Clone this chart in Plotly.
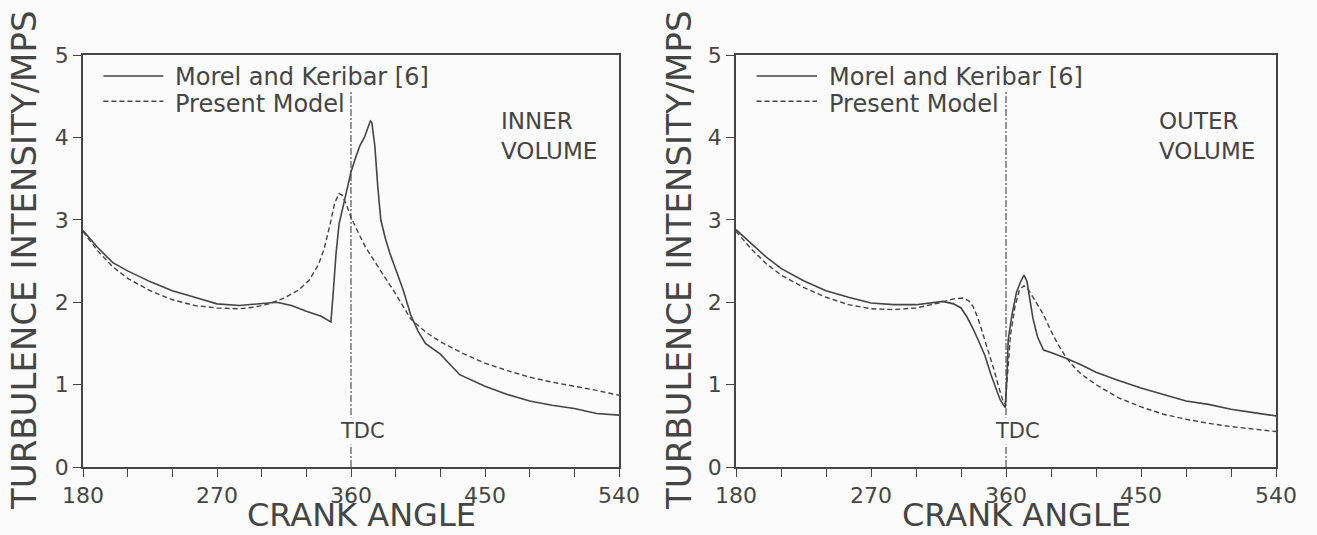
import plotly.graph_objects as go

# ---------------- data ----------------
inner_solid_x = [180, 185, 190, 200, 210, 225, 240, 255, 270, 285, 300, 310, 320, 330, 340, 345, 346.5,
                 348, 350, 352, 355, 358, 360, 363, 366, 369, 371, 373, 374, 376, 378, 380, 383, 386,
                 390, 395, 400, 405, 410, 420, 433, 450, 465, 480, 495, 510, 525, 540]
inner_solid_y = [2.87, 2.76, 2.66, 2.48, 2.38, 2.25, 2.14, 2.06, 1.98, 1.96, 1.98, 2.0, 1.96, 1.89, 1.83, 1.77, 1.76,
                 2.1, 2.6, 2.95, 3.2, 3.45, 3.58, 3.75, 3.9, 4.0, 4.1, 4.2, 4.18, 3.9, 3.4, 3.0, 2.78, 2.6,
                 2.4, 2.15, 1.85, 1.65, 1.5, 1.37, 1.12, 0.98, 0.88, 0.8, 0.75, 0.71, 0.65, 0.63]

inner_model_x = [180, 185, 190, 200, 210, 225, 240, 255, 270, 285, 295, 305, 315, 325, 332, 338, 342, 346,
                 349, 352, 354, 357, 360, 365, 370, 375, 380, 390, 400, 410, 420, 435, 450, 465, 480, 495,
                 510, 525, 540]
inner_model_y = [2.86, 2.74, 2.62, 2.43, 2.29, 2.14, 2.03, 1.96, 1.93, 1.92, 1.94, 1.98, 2.05, 2.15, 2.27, 2.45,
                 2.65, 2.95, 3.2, 3.32, 3.3, 3.18, 3.03, 2.84, 2.66, 2.52, 2.38, 2.1, 1.8, 1.64, 1.52, 1.38,
                 1.26, 1.17, 1.09, 1.03, 0.98, 0.93, 0.87]

outer_solid_x = [180, 185, 190, 200, 210, 225, 240, 255, 270, 285, 300, 310, 318, 325, 330, 334, 338, 342,
                 346, 350, 353, 356, 358, 359.5, 360.5, 361.5, 364, 367, 370, 372, 374, 376, 378, 381, 385,
                 390, 400, 410, 420, 435, 450, 465, 480, 495, 510, 525, 540]
outer_solid_y = [2.88, 2.8, 2.71, 2.55, 2.41, 2.26, 2.14, 2.06, 1.99, 1.97, 1.97, 1.99, 2.01, 1.98, 1.93, 1.82,
                 1.68, 1.52, 1.35, 1.12, 0.97, 0.82, 0.76, 0.72, 1.05, 1.55, 1.85, 2.12, 2.26, 2.33, 2.25,
                 2.05, 1.8, 1.58, 1.42, 1.39, 1.32, 1.24, 1.15, 1.05, 0.96, 0.88, 0.8, 0.76, 0.7, 0.66, 0.62]

outer_model_x = [180, 185, 190, 200, 210, 225, 240, 255, 270, 285, 300, 315, 325, 331, 335, 338, 341, 344,
                 348, 352, 355, 358, 359.5, 361, 363, 366, 369, 372, 375, 380, 385, 390, 395, 400, 405, 410,
                 420, 435, 450, 465, 480, 495, 510, 525, 540]
outer_model_y = [2.86, 2.75, 2.65, 2.47, 2.33, 2.18, 2.06, 1.97, 1.92, 1.91, 1.93, 1.99, 2.04, 2.05, 2.02, 1.95,
                 1.82, 1.65, 1.42, 1.18, 0.98, 0.8, 0.76, 1.1, 1.6, 1.95, 2.15, 2.2, 2.15, 2.0, 1.85, 1.65,
                 1.48, 1.33, 1.22, 1.13, 1.0, 0.84, 0.73, 0.64, 0.58, 0.53, 0.49, 0.46, 0.43]

x_ticks = [180, 210, 240, 270, 300, 330, 360, 390, 420, 450, 480, 510, 540]
x_tick_text = ["180", "", "", "270", "", "", "360", "", "", "450", "", "", "540"]
y_ticks = [0, 1, 2, 3, 4, 5]
legend_names = ["Morel and Keribar [6]", "Present Model"]
panel_labels = ["INNER<br>VOLUME", "OUTER<br>VOLUME"]
tdc_angle = 360
tdc_top = 4.55

# ---------------- style ----------------
INK = "#454545"
BG = "#fbfbfb"
FONT = "DejaVu Sans"

fig = go.Figure()

panels = [
    ("x", "y", inner_solid_x, inner_solid_y, inner_model_x, inner_model_y),
    ("x2", "y2", outer_solid_x, outer_solid_y, outer_model_x, outer_model_y),
]
for xa, ya, sx, sy, mx, my in panels:
    fig.add_trace(go.Scatter(x=sx, y=sy, xaxis=xa, yaxis=ya, mode="lines",
                             line=dict(color=INK, width=1.6), showlegend=False))
    fig.add_trace(go.Scatter(x=mx, y=my, xaxis=xa, yaxis=ya, mode="lines",
                             line=dict(color=INK, width=1.4, dash="5px,3px"), showlegend=False))
    fig.add_trace(go.Scatter(x=[tdc_angle, tdc_angle], y=[0, tdc_top], xaxis=xa, yaxis=ya, mode="lines",
                             line=dict(color=INK, width=1.1, dash="7px,2px,2px,2px"), showlegend=False))

xdoms = [[83 / 1317, 619 / 1317], [736 / 1317, 1276 / 1317]]
ydom = [1 - 467 / 535, 1 - 55 / 535]

axis_common = dict(showline=True, linecolor=INK, linewidth=1.5, mirror=True, showgrid=False,
                   zeroline=False, ticks="outside", ticklen=8, tickwidth=1.3, tickcolor=INK,
                   automargin=False,
                   tickfont=dict(family=FONT, size=22, color=INK))

layout = dict(
    width=1317, height=535, margin=dict(l=0, r=0, t=0, b=0, pad=0),
    paper_bgcolor=BG, plot_bgcolor=BG, showlegend=False,
    font=dict(family=FONT, color=INK),
)
for i, (xd, name) in enumerate(zip(xdoms, ["", "2"])):
    layout["xaxis" + name] = dict(axis_common, domain=xd, range=[180, 540], tickvals=x_ticks,
                                  ticktext=x_tick_text, anchor="y" + name)
    layout["yaxis" + name] = dict(axis_common, domain=ydom, range=[0, 5], tickvals=y_ticks,
                                  anchor="x" + name)
fig.update_layout(**layout)

ann = []
shapes = []
for i, name in enumerate(["", "2"]):
    xr = "x" + name
    yr = "y" + name
    ann.append(dict(text="CRANK ANGLE", xref="paper", yref="paper",
                    x=(361 if i == 0 else 1016) / 1317, y=0,
                    xanchor="center", yanchor="bottom", borderpad=0,
                    showarrow=False, font=dict(family=FONT, size=32, color=INK)))
    ann.append(dict(text="TURBULENCE INTENSITY/MPS", xref="paper", yref="paper",
                    x=(24 if i == 0 else 679) / 1317, y=1 - 260 / 535, textangle=-90,
                    xanchor="center", yanchor="middle",
                    showarrow=False, font=dict(family=FONT, size=34, color=INK)))
    for j, (nm, dash, yy, ty) in enumerate(zip(legend_names, ["solid", "5px,3px"], [0.949, 0.888], [0.946, 0.882])):
        shapes.append(dict(type="line", xref=xr + " domain", yref=yr + " domain",
                           x0=0.038, x1=0.150, y0=yy, y1=yy,
                           line=dict(color=INK, width=1.5, dash=dash)))
        ann.append(dict(text=nm, xref=xr + " domain", yref=yr + " domain", x=0.168, y=ty,
                        xanchor="left", yanchor="middle", showarrow=False,
                        font=dict(family=FONT, size=24, color=INK)))
    ann.append(dict(text=panel_labels[i], xref=xr + " domain", yref=yr,
                    x=0.776 if i == 0 else 0.780, y=4.02, xanchor="left", yanchor="middle",
                    align="left", showarrow=False, font=dict(family=FONT, size=23, color=INK)))
    ann.append(dict(text="TDC", xref=xr, yref=yr, x=367.5, y=0.44, showarrow=False,
                    xanchor="center", yanchor="middle",
                    bgcolor=BG, borderpad=1, font=dict(family=FONT, size=21, color=INK)))

fig.update_layout(annotations=ann, shapes=shapes)
fig.write_html("out.html", config={"displayModeBar": False},
               post_script="document.body.style.margin='0';document.body.style.background='%s';" % BG)
